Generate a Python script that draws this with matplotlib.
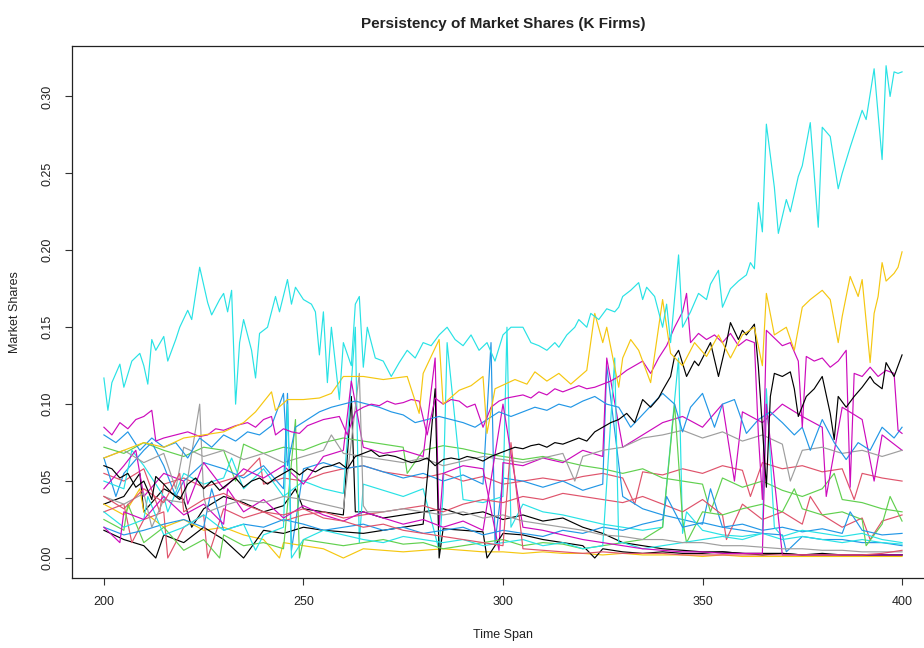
import matplotlib
matplotlib.use('Agg')
import matplotlib.pyplot as plt

plt.rcParams['font.family'] = ['Liberation Sans', 'DejaVu Sans']

# R default palette (v4)
BLACK = 'black'
RED = '#DF536B'
GREEN = '#61D04F'
BLUE = '#2297E6'
CYAN = '#28E2E5'
MAGENTA = '#CD0BBC'
GOLD = '#F5C710'
GRAY = '#9E9E9E'

# ---- leading firms (time, share) ----
cyan_lead_t = [200, 201, 202, 204, 205, 207, 209, 210, 211, 212, 213, 215, 216, 218, 219, 221, 222, 224, 226, 227,
               229, 230, 231, 232, 233, 234, 235, 237, 238, 239, 241, 243, 244, 246, 247, 248, 250, 252, 253, 254,
               255, 256, 257, 259, 260, 262, 263, 264, 265, 266, 268, 270, 272, 274, 276, 278, 280, 282, 284, 286,
               288, 290, 292, 294, 296, 298, 300, 302, 305, 307, 309, 311, 313, 314, 316, 318, 319, 321, 322, 324,
               326, 328, 329, 330, 332, 334, 335, 336, 338, 340, 341, 342, 344, 345, 347, 349, 351, 352, 354, 355,
               357, 359, 361, 362, 363, 364, 365, 366, 368, 369, 371, 372, 374, 375, 377, 379, 380, 382, 384, 385,
               387, 388, 390, 391, 393, 395, 396, 397, 398, 399, 400]
cyan_lead_v = [.117, .096, .114, .126, .111, .128, .133, .125, .113, .142, .135, .144, .128, .142, .150, .161, .155, .189, .166, .158,
               .168, .172, .160, .174, .100, .140, .155, .135, .117, .146, .150, .170, .160, .181, .165, .176, .168, .165, .160, .132,
               .160, .114, .150, .103, .140, .125, .165, .170, .124, .150, .130, .128, .118, .127, .135, .130, .140, .138, .145, .150,
               .142, .138, .145, .135, .140, .128, .145, .150, .150, .140, .138, .135, .140, .137, .145, .150, .155, .150, .159, .155,
               .162, .160, .163, .170, .174, .179, .168, .176, .170, .150, .165, .140, .197, .150, .160, .172, .168, .178, .187, .163,
               .175, .180, .184, .192, .188, .231, .212, .282, .241, .211, .233, .225, .248, .255, .283, .215, .280, .274, .240, .250,
               .267, .275, .291, .285, .318, .259, .320, .300, .316, .315, .316]

gold_lead_t = [200, 205, 210, 215, 220, 225, 230, 235, 238, 242, 243, 246, 250, 254, 257, 260, 265, 270, 276, 279,
               280, 284, 285, 289, 292, 295, 296, 298, 303, 306, 308, 311, 314, 317, 321, 323, 325, 326, 329, 330,
               332, 334, 337, 340, 342, 345, 348, 351, 354, 357, 360, 363, 365, 366, 368, 371, 373, 375, 377, 380,
               382, 384, 385, 387, 389, 390, 392, 393, 394, 395, 396, 398, 399, 400]
gold_lead_v = [.065, .070, .075, .072, .078, .080, .082, .088, .095, .108, .096, .103, .103, .104, .107, .118, .118, .116, .118, .094,
               .120, .142, .100, .109, .112, .118, .081, .110, .116, .113, .121, .115, .120, .113, .122, .159, .140, .150, .111, .130,
               .142, .135, .114, .168, .133, .125, .140, .131, .145, .130, .145, .150, .125, .172, .145, .150, .135, .163, .168, .174,
               .168, .140, .157, .183, .170, .181, .127, .159, .170, .192, .180, .185, .189, .199]

black_lead_t = [200, 202, 204, 206, 208, 210, 212, 213, 215, 217, 219, 221, 223, 225, 227, 229, 231, 233, 235, 237,
                239, 241, 243, 245, 247, 249, 251, 253, 255, 257, 259, 261, 263, 265, 267, 269, 271, 273, 275, 277,
                279, 281, 283, 285, 287, 289, 291, 293, 295, 297, 299, 301, 303, 305, 307, 309, 311, 313, 315, 317,
                319, 321, 323, 325, 327, 329, 331, 333, 335, 337, 339, 340, 342, 343, 344, 346, 348, 349, 351, 352,
                354, 356, 357, 359, 360, 361, 363, 364, 366, 367, 368, 370, 372, 373, 374, 376, 378, 380, 382, 383,
                384, 386, 388, 390, 392, 393, 395, 396, 398, 400]
black_lead_v = [.060, .058, .052, .055, .046, .050, .038, .053, .048, .042, .038, .048, .052, .045, .050, .044, .048, .052, .046, .050,
                .052, .048, .052, .055, .058, .054, .058, .056, .059, .060, .062, .058, .066, .068, .070, .066, .067, .066, .064, .062,
                .063, .065, .060, .064, .065, .064, .066, .065, .063, .066, .068, .070, .072, .071, .073, .074, .072, .075, .074, .076,
                .078, .076, .082, .085, .088, .090, .094, .088, .103, .098, .104, .109, .118, .131, .135, .118, .128, .125, .135, .140,
                .118, .140, .153, .142, .148, .145, .152, .124, .046, .105, .120, .118, .121, .110, .092, .105, .110, .118, .094, .077,
                .105, .098, .105, .111, .118, .114, .110, .127, .118, .132]

magenta_lead_t = [200, 202, 204, 206, 208, 210, 212, 213, 215, 218, 221, 224, 226, 228, 230, 233, 236, 238, 240, 242,
                  243, 245, 247, 249, 251, 253, 255, 257, 259, 261, 263, 265, 267, 269, 271, 273, 275, 277, 279, 281,
                  283, 285, 287, 289, 291, 293, 295, 297, 299, 301, 303, 305, 307, 309, 311, 313, 315, 317, 319, 321,
                  323, 325, 327, 329, 331, 333, 335, 337, 339, 341, 343, 345, 346, 347, 349, 351, 353, 355, 357, 359,
                  361, 363, 364, 365, 366, 368, 370, 372, 374, 375, 376, 378, 380, 382, 384, 386, 387, 388, 390, 392,
                  394, 396, 398, 399, 400]
magenta_lead_v = [.085, .080, .088, .084, .090, .092, .096, .076, .078, .080, .082, .079, .080, .084, .083, .086, .088, .085, .090, .092,
                  .080, .084, .082, .081, .086, .088, .090, .091, .092, .080, .095, .098, .100, .099, .102, .100, .101, .103, .102, .080,
                  .104, .100, .103, .102, .098, .100, .085, .098, .102, .104, .105, .106, .104, .108, .106, .110, .108, .110, .112, .110,
                  .111, .113, .115, .118, .122, .125, .128, .120, .130, .138, .150, .160, .172, .140, .146, .142, .145, .140, .146, .138,
                  .142, .140, .080, .038, .148, .143, .138, .140, .128, .085, .131, .128, .130, .124, .128, .135, .046, .120, .118, .124,
                  .118, .122, .120, .083, .081]

blue_lead_t = [200, 203, 206, 209, 212, 215, 218, 221, 224, 227, 230, 233, 236, 239, 242, 245, 246, 248, 251, 254,
               257, 260, 263, 266, 269, 272, 275, 278, 281, 284, 287, 290, 293, 296, 299, 302, 305, 308, 311, 314,
               317, 320, 323, 326, 329, 332, 336, 340, 343, 345, 347, 350, 353, 355, 358, 361, 364, 367, 370, 373,
               375, 377, 380, 383, 386, 389, 392, 395, 398, 400]
blue_lead_v = [.080, .075, .082, .070, .078, .072, .075, .065, .078, .072, .080, .076, .082, .080, .086, .107, .060, .085, .090, .095,
               .098, .100, .102, .100, .098, .095, .093, .088, .090, .092, .090, .088, .085, .090, .095, .092, .095, .098, .096, .100,
               .098, .102, .105, .100, .098, .085, .096, .107, .100, .082, .098, .107, .085, .100, .103, .081, .090, .095, .088, .080,
               .085, .070, .090, .075, .064, .075, .070, .085, .078, .085]

# ---- the other firms, read every 5 periods (200, 205, ..., 400) ----
grid_t = list(range(200, 401, 5))

gray_1 = [.065, .070, .062, .068, .072, .066, .070, .064, .068, .062, .066, .070, .068, .066, .064, .062, .065, .060, .063, .066, .064,
          .062, .065, .068, .066, .070, .072, .078, .080, .083, .078, .082, .076, .080, .074, .070, .072, .068, .070, .066, .070]
green_1 = [.072, .068, .075, .070, .066, .072, .070, .074, .068, .072, .070, .075, .078, .076, .074, .072, .070, .073, .071, .068, .066,
           .064, .066, .063, .060, .058, .055, .058, .052, .050, .048, .052, .046, .050, .044, .040, .045, .038, .036, .032, .030]
red_1 = [.055, .050, .058, .048, .052, .046, .050, .054, .048, .052, .050, .055, .058, .060, .056, .054, .052, .055, .050, .053, .048,
         .050, .052, .050, .053, .055, .052, .056, .054, .058, .055, .060, .057, .062, .058, .060, .056, .058, .055, .052, .050]
magenta_2 = [.045, .060, .040, .055, .050, .062, .045, .058, .052, .060, .048, .066, .070, .072, .068, .070, .066, .055, .060, .058, .062,
             .060, .065, .062, .070, .066, .072, .080, .088, .092, .085, .100, .095, .088, .100, .092, .085, .098, .090, .080, .070]
blue_2 = [.065, .055, .070, .060, .050, .062, .058, .052, .060, .045, .058, .062, .058, .060, .056, .052, .055, .050, .054, .048, .052,
          .050, .046, .050, .044, .048, .040, .032, .028, .025, .022, .020, .018, .016, .015, .014, .012, .012, .010, .010, .008]
cyan_2 = [.050, .045, .060, .040, .055, .048, .052, .045, .058, .040, .050, .045, .042, .048, .044, .040, .045, .042, .038, .036, .040,
          .035, .030, .028, .025, .022, .020, .018, .020, .016, .018, .015, .014, .016, .012, .014, .012, .010, .012, .010, .009]
gold_2 = [.035, .028, .030, .020, .025, .018, .020, .015, .012, .010, .008, .006, .005, .006, .005, .004, .005, .006, .005, .004, .004,
          .003, .004, .003, .003, .002, .003, .002, .002, .002, .001, .002, .001, .001, .001, .001, .001, .001, .001, .001, .001]
black_2 = [.035, .040, .030, .045, .038, .032, .040, .036, .030, .034, .032, .030, .028, .030, .026, .028, .030, .032, .028, .030, .025,
           .028, .024, .026, .020, .016, .010, .008, .006, .005, .004, .004, .003, .003, .003, .002, .002, .002, .002, .002, .002]
red_2 = [.030, .035, .025, .030, .020, .028, .032, .026, .030, .024, .028, .030, .026, .028, .030, .032, .034, .030, .035, .038, .036,
         .040, .038, .042, .040, .038, .036, .040, .035, .030, .038, .028, .035, .025, .030, .022, .028, .020, .026, .024, .028]
green_2 = [.025, .018, .010, .020, .005, .012, .015, .008, .010, .006, .012, .010, .008, .010, .012, .009, .010, .006, .008, .010, .012,
           .008, .010, .009, .006, .008, .010, .012, .020, .025, .030, .028, .032, .035, .030, .032, .028, .030, .025, .022, .024]
gray_2 = [.040, .035, .042, .038, .036, .040, .034, .038, .036, .040, .038, .035, .032, .034, .030, .032, .030, .028, .030, .026, .028,
          .024, .022, .020, .018, .015, .014, .012, .012, .010, .010, .008, .008, .007, .006, .006, .005, .005, .004, .004, .004]
blue_3 = [.020, .015, .018, .022, .025, .020, .018, .022, .020, .025, .022, .018, .020, .022, .018, .020, .016, .018, .020, .015, .018,
          .016, .014, .018, .016, .020, .018, .022, .025, .020, .023, .020, .022, .018, .020, .017, .019, .016, .018, .015, .016]
cyan_3 = [.030, .020, .025, .015, .020, .028, .018, .022, .015, .020, .012, .018, .015, .012, .010, .014, .012, .010, .012, .008, .010,
          .012, .008, .010, .006, .008, .010, .006, .008, .010, .012, .014, .012, .016, .014, .018, .016, .014, .016, .012, .010]
magenta_3 = [.020, .030, .025, .040, .028, .035, .022, .030, .038, .026, .034, .028, .024, .030, .026, .022, .025, .020, .024, .018, .022,
             .020, .018, .015, .012, .010, .008, .006, .005, .004, .004, .003, .003, .003, .002, .002, .002, .002, .002, .002, .002]
red_3 = [.040, .032, .045, .036, .030, .038, .042, .035, .030, .028, .032, .026, .024, .020, .022, .018, .016, .014, .012, .010, .008,
         .006, .005, .004, .003, .004, .003, .003, .003, .002, .002, .002, .002, .002, .002, .002, .002, .002, .002, .003, .005]
black_3 = [.018, .012, .008, .015, .010, .020, .012, .015, .018, .016, .020, .018, .017, .016, .018, .020, .022, .019, .018, .017, .016,
           .015, .012, .010, .008, .006, .004, .003, .004, .003, .003, .004, .003, .002, .003, .002, .003, .002, .002, .002, .002]

# short jumps and wiggles of the small firms (time, share)
spikes = {
    'blue_2': [(203, .040), (212, .075), (218, .040), (246, .107), (247, .005), (297, .140), (298, .010), (326, .125),
               (352, .045), (371, .004)],
    'cyan_2': [(207, .070), (216, .030), (232, .065), (263, .150), (264, .010), (284, .005), (286, .140), (301, .150),
               (302, .020), (344, .130), (346, .030)],
    'cyan_3': [(211, .040), (238, .005), (246, .100), (247, .000), (328, .130), (329, .010), (366, .110), (368, .020)],
    'magenta_2': [(208, .070), (221, .035), (262, .115), (283, .130), (284, .020), (299, .005), (326, .130),
                  (358, .050), (381, .040), (393, .050)],
    'gray_2': [(212, .020), (224, .100), (226, .030), (264, .120), (266, .030)],
    'gray_1': [(218, .045), (257, .080), (318, .050), (372, .050)],
    'black_3': [(213, .000), (235, .000), (283, .110), (284, .000), (296, .000), (323, .000)],
    'black_2': [(209, .055), (222, .020), (248, .045), (262, .105), (263, .030)],
    'green_2': [(206, .035), (229, .000), (248, .090), (249, .000), (343, .100), (346, .010), (373, .045),
                (391, .008), (397, .040)],
    'green_1': [(233, .050), (276, .055), (352, .030), (383, .055)],
    'red_1': [(214, .030), (239, .065), (333, .035), (362, .040), (388, .038)],
    'red_2': [(207, .010), (216, .000), (226, .000), (356, .012), (377, .040), (392, .012)],
    'red_3': [(219, .055), (302, .075)],
    'gold_2': [(209, .045), (244, .000), (260, .000)],
    'magenta_3': [(204, .010), (231, .045), (300, .100), (366, .100)],
    'blue_3': [(227, .045), (341, .040), (387, .030)],
}

others = [
    ('black_2', black_2, BLACK), ('red_1', red_1, RED), ('green_1', green_1, GREEN), ('blue_2', blue_2, BLUE),
    ('cyan_2', cyan_2, CYAN), ('magenta_2', magenta_2, MAGENTA), ('gold_2', gold_2, GOLD), ('gray_1', gray_1, GRAY),
    ('black_3', black_3, BLACK), ('red_2', red_2, RED), ('green_2', green_2, GREEN), ('blue_3', blue_3, BLUE),
    ('cyan_3', cyan_3, CYAN), ('magenta_3', magenta_3, MAGENTA), ('gray_2', gray_2, GRAY), ('red_3', red_3, RED),
]

fig = plt.figure(figsize=(9.24, 6.48), dpi=100)
ax = fig.add_axes([0.0779, 0.1085, 0.9329, 0.8205])

lw = 0.85
for name, vals, col in others:
    pts = dict(zip(grid_t, vals))
    for t, v in spikes.get(name, []):
        pts[t] = v
    ts = sorted(pts)
    ax.plot(ts, [pts[t] for t in ts], color=col, lw=lw)

ax.plot(blue_lead_t, blue_lead_v, color=BLUE, lw=lw)
ax.plot(magenta_lead_t, magenta_lead_v, color=MAGENTA, lw=lw)
ax.plot(black_lead_t, black_lead_v, color=BLACK, lw=lw)
ax.plot(gold_lead_t, gold_lead_v, color=GOLD, lw=lw)
ax.plot(cyan_lead_t, cyan_lead_v, color=CYAN, lw=lw)

ax.set_xlim(192, 408)
ax.set_ylim(-0.0128, 0.3328)
ax.set_xticks([200, 250, 300, 350, 400])
ax.set_yticks([0.0, 0.05, 0.10, 0.15, 0.20, 0.25, 0.30])
ax.set_yticklabels(['0.00', '0.05', '0.10', '0.15', '0.20', '0.25', '0.30'], rotation=90, va='center')
ax.tick_params(direction='out', length=5, width=0.8, labelsize=9, color='#333333', labelcolor='#222222', pad=8)
for s in ax.spines.values():
    s.set_linewidth(0.9)
    s.set_color('#222222')

ax.set_xlabel('Time Span', fontsize=9, labelpad=15, color='#222222')
ax.set_ylabel('Market Shares', fontsize=9, labelpad=15, color='#222222')
fig.text(0.5444, 0.963, 'Persistency of Market Shares (K Firms)', ha='center', va='center',
         fontsize=11, fontweight='bold', color='#222222')

fig.savefig('out.png', dpi=100)
